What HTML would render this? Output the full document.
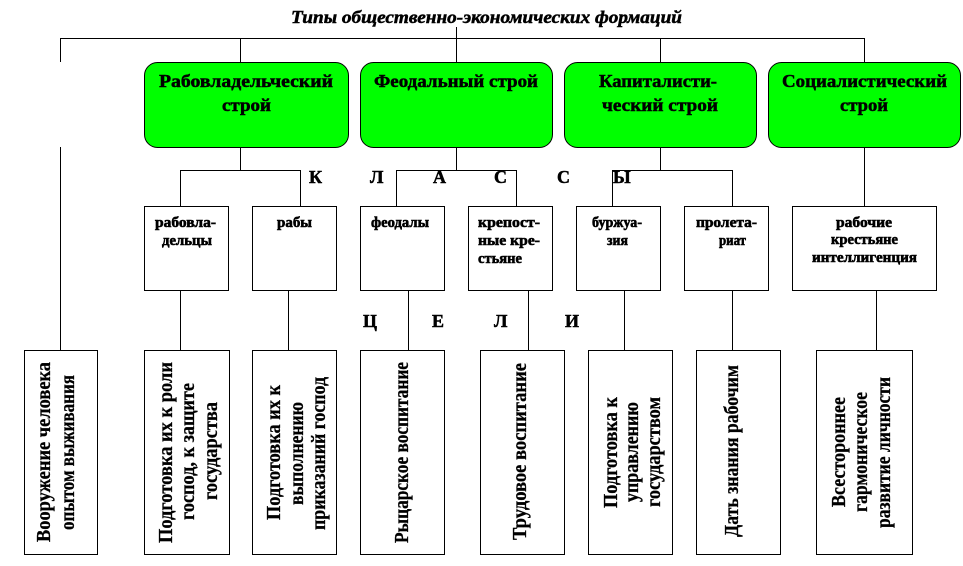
<!DOCTYPE html>
<html>
<head>
<meta charset="utf-8">
<style>
  html, body { margin: 0; padding: 0; background: #ffffff; }
  svg { display: block; }
  text { font-family: "Liberation Serif", "DejaVu Serif", serif; fill: #000; }
</style>
</head>
<body>
<svg width="963" height="566" viewBox="0 0 963 566" xmlns="http://www.w3.org/2000/svg">
  <rect x="0" y="0" width="963" height="566" fill="#ffffff"/>

  <!-- Title -->
  <text x="291" y="23" font-size="18" font-weight="bold" font-style="italic" stroke="#000" stroke-width="0.5" textLength="391" lengthAdjust="spacingAndGlyphs">Типы общественно-экономических формаций</text>

  <g stroke="#000" stroke-width="1" fill="none" shape-rendering="crispEdges">
    <!-- title connector & top horizontal -->
    <line x1="456.5" y1="27" x2="456.5" y2="62"/>
    <line x1="60" y1="38.5" x2="865" y2="38.5"/>
    <line x1="60.5" y1="38" x2="60.5" y2="62"/>
    <line x1="240.5" y1="38" x2="240.5" y2="62"/>
    <line x1="660.5" y1="38" x2="660.5" y2="62"/>
    <line x1="864.5" y1="38" x2="864.5" y2="62"/>

    <!-- left long line -->
    <line x1="60.5" y1="147" x2="60.5" y2="350"/>

    <!-- below green boxes -->
    <line x1="240.5" y1="147" x2="240.5" y2="170"/>
    <line x1="456.5" y1="147" x2="456.5" y2="170"/>
    <line x1="660.5" y1="147" x2="660.5" y2="170"/>
    <line x1="864.5" y1="147" x2="864.5" y2="206"/>

    <line x1="180" y1="170.5" x2="301" y2="170.5"/>
    <line x1="396" y1="170.5" x2="517" y2="170.5"/>
    <line x1="612" y1="170.5" x2="733" y2="170.5"/>

    <line x1="180.5" y1="170" x2="180.5" y2="206"/>
    <line x1="300.5" y1="170" x2="300.5" y2="206"/>
    <line x1="396.5" y1="170" x2="396.5" y2="206"/>
    <line x1="516.5" y1="170" x2="516.5" y2="206"/>
    <line x1="612.5" y1="170" x2="612.5" y2="206"/>
    <line x1="732.5" y1="170" x2="732.5" y2="206"/>

    <!-- small boxes -->
    <rect x="144.5" y="206.5" width="84" height="84"/>
    <rect x="252.5" y="206.5" width="84" height="84"/>
    <rect x="360.5" y="206.5" width="84" height="84"/>
    <rect x="468.5" y="206.5" width="84" height="84"/>
    <rect x="576.5" y="206.5" width="84" height="84"/>
    <rect x="684.5" y="206.5" width="84" height="84"/>
    <rect x="792.5" y="206.5" width="144" height="84"/>

    <!-- lower connectors -->
    <line x1="180.5" y1="290" x2="180.5" y2="350"/>
    <line x1="288.5" y1="290" x2="288.5" y2="350"/>
    <line x1="408.5" y1="290" x2="408.5" y2="350"/>
    <line x1="528.5" y1="290" x2="528.5" y2="350"/>
    <line x1="624.5" y1="290" x2="624.5" y2="350"/>
    <line x1="732.5" y1="290" x2="732.5" y2="350"/>
    <line x1="876.5" y1="290" x2="876.5" y2="350"/>

    <!-- bottom boxes -->
    <rect x="24.5" y="350.5" width="73" height="204"/>
    <rect x="144.5" y="350.5" width="85" height="204"/>
    <rect x="252.5" y="350.5" width="84" height="204"/>
    <rect x="360.5" y="350.5" width="84" height="204"/>
    <rect x="480.5" y="350.5" width="84" height="204"/>
    <rect x="588.5" y="350.5" width="84" height="204"/>
    <rect x="696.5" y="350.5" width="84" height="204"/>
    <rect x="816.5" y="350.5" width="96" height="204"/>
  </g>

  <!-- Green boxes -->
  <g fill="#00ff00" stroke="#000" stroke-width="1">
    <rect x="144.5" y="62.5" width="204" height="85" rx="13" ry="13"/>
    <rect x="360.5" y="62.5" width="192" height="85" rx="13" ry="13"/>
    <rect x="564.5" y="62.5" width="192" height="85" rx="13" ry="13"/>
    <rect x="768.5" y="62.5" width="192" height="85" rx="13" ry="13"/>
  </g>

  <g font-size="18" font-weight="bold" stroke="#000" stroke-width="0.5">
    <text x="159" y="87" textLength="174" lengthAdjust="spacingAndGlyphs">Рабовладельческий</text>
    <text x="222" y="111" textLength="49" lengthAdjust="spacingAndGlyphs">строй</text>
    <text x="374" y="87" textLength="164" lengthAdjust="spacingAndGlyphs">Феодальный строй</text>
    <text x="599" y="87" textLength="118" lengthAdjust="spacingAndGlyphs">Капиталисти-</text>
    <text x="602" y="111" textLength="116" lengthAdjust="spacingAndGlyphs">ческий строй</text>
    <text x="782" y="87" textLength="165" lengthAdjust="spacingAndGlyphs">Социалистический</text>
    <text x="840" y="111" textLength="48" lengthAdjust="spacingAndGlyphs">строй</text>
  </g>

  <!-- big letters -->
  <g font-size="18" font-weight="bold" stroke="#000" stroke-width="0.5">
    <text x="309" y="183">К</text>
    <text x="370" y="183">Л</text>
    <text x="433" y="183">А</text>
    <text x="494" y="183">С</text>
    <text x="557" y="183">С</text>
    <text x="613" y="183">Ы</text>
    <text x="363" y="327">Ц</text>
    <text x="432" y="327">Е</text>
    <text x="494" y="327">Л</text>
    <text x="565" y="327">И</text>
  </g>

  <!-- small box texts -->
  <g font-size="15" font-weight="bold" stroke="#000" stroke-width="0.6">
    <text x="155" y="227" textLength="61" lengthAdjust="spacingAndGlyphs">рабовла-</text>
    <text x="162" y="245" textLength="50" lengthAdjust="spacingAndGlyphs">дельцы</text>
    <text x="277" y="227" textLength="35" lengthAdjust="spacingAndGlyphs">рабы</text>
    <text x="371" y="227" textLength="58" lengthAdjust="spacingAndGlyphs">феодалы</text>
    <text x="478" y="227" textLength="62" lengthAdjust="spacingAndGlyphs">крепост-</text>
    <text x="478" y="245" textLength="62" lengthAdjust="spacingAndGlyphs">ные кре-</text>
    <text x="478" y="263" textLength="44" lengthAdjust="spacingAndGlyphs">стьяне</text>
    <text x="592" y="227" textLength="50" lengthAdjust="spacingAndGlyphs">буржуа-</text>
    <text x="607" y="245" textLength="21" lengthAdjust="spacingAndGlyphs">зия</text>
    <text x="696" y="227" textLength="61" lengthAdjust="spacingAndGlyphs">пролета-</text>
    <text x="719" y="245" textLength="27" lengthAdjust="spacingAndGlyphs">риат</text>
    <text x="836" y="227" textLength="56" lengthAdjust="spacingAndGlyphs">рабочие</text>
    <text x="831" y="244" textLength="67" lengthAdjust="spacingAndGlyphs">крестьяне</text>
    <text x="812" y="262" textLength="105" lengthAdjust="spacingAndGlyphs">интеллигенция</text>
  </g>

  <!-- bottom rotated texts -->
  <g font-size="20" font-weight="bold" text-anchor="middle" stroke="#000" stroke-width="0.3">
    <!-- Box A -->
    <text transform="translate(50,452) rotate(-90)" textLength="180" lengthAdjust="spacingAndGlyphs">Вооружение человека</text>
    <text transform="translate(74,452.5) rotate(-90)" textLength="155" lengthAdjust="spacingAndGlyphs">опытом выживания</text>
    <!-- Box B -->
    <text transform="translate(172,452.5) rotate(-90)" textLength="181" lengthAdjust="spacingAndGlyphs">Подготовка их к роли</text>
    <text transform="translate(194,451.5) rotate(-90)" textLength="137" lengthAdjust="spacingAndGlyphs">господ, к защите</text>
    <text transform="translate(217,451) rotate(-90)" textLength="98" lengthAdjust="spacingAndGlyphs">государства</text>
    <!-- Box C -->
    <text transform="translate(280,452.5) rotate(-90)" textLength="135" lengthAdjust="spacingAndGlyphs">Подготовка их к</text>
    <text transform="translate(303,453.5) rotate(-90)" textLength="103" lengthAdjust="spacingAndGlyphs">выполнению</text>
    <text transform="translate(325,453.5) rotate(-90)" textLength="153" lengthAdjust="spacingAndGlyphs">приказаний господ</text>
    <!-- Box D -->
    <text transform="translate(408,452.5) rotate(-90)" textLength="181" lengthAdjust="spacingAndGlyphs">Рыцарское воспитание</text>
    <!-- Box E -->
    <text transform="translate(526,451.5) rotate(-90)" textLength="177" lengthAdjust="spacingAndGlyphs">Трудовое воспитание</text>
    <!-- Box F -->
    <text transform="translate(617,452.5) rotate(-90)" textLength="111" lengthAdjust="spacingAndGlyphs">Подготовка к</text>
    <text transform="translate(638,452) rotate(-90)" textLength="100" lengthAdjust="spacingAndGlyphs">управлению</text>
    <text transform="translate(660,452) rotate(-90)" textLength="110" lengthAdjust="spacingAndGlyphs">государством</text>
    <!-- Box G -->
    <text transform="translate(738,451) rotate(-90)" textLength="172" lengthAdjust="spacingAndGlyphs">Дать знания рабочим</text>
    <!-- Box H -->
    <text transform="translate(845,452) rotate(-90)" textLength="110" lengthAdjust="spacingAndGlyphs">Всестороннее</text>
    <text transform="translate(867,452) rotate(-90)" textLength="120" lengthAdjust="spacingAndGlyphs">гармоническое</text>
    <text transform="translate(890,452.5) rotate(-90)" textLength="151" lengthAdjust="spacingAndGlyphs">развитие личности</text>
  </g>
</svg>
</body>
</html>
